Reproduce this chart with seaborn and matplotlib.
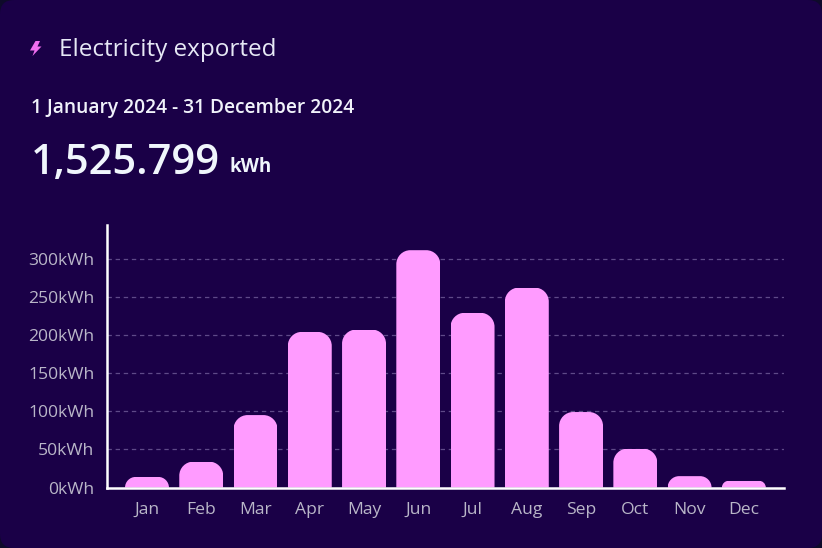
import matplotlib
matplotlib.use("Agg")
import matplotlib.pyplot as plt
import seaborn as sns
import pandas as pd
from matplotlib.path import Path
from matplotlib.patches import FancyBboxPatch, Polygon
from matplotlib.transforms import IdentityTransform

months = ["Jan", "Feb", "Mar", "Apr", "May", "Jun", "Jul", "Aug", "Sep", "Oct", "Nov", "Dec"]
exported = [14, 34, 95, 204, 207, 311, 229, 262, 99, 51, 15, 9]
yticks = [0, 50, 100, 150, 200, 250, 300]
ylabels = ["0kWh", "50kWh", "100kWh", "150kWh", "200kWh", "250kWh", "300kWh"]

BG = "#1a0047"
PINK = "#ff9bff"
W, H = 822, 548

sns.set_theme(style="white", font="Open Sans")
fig = plt.figure(figsize=(W / 100, H / 100), dpi=100, facecolor="#0e0a2a")
fig.add_artist(FancyBboxPatch((0, 0), W, H, boxstyle="round,pad=0,rounding_size=14",
                              transform=IdentityTransform(), fc=BG, ec="none", zorder=-5))
ax = fig.add_axes([107 / W, 1 - 487.6 / H, (784 - 107) / W, (487.6 - 225) / H])
ax.patch.set_alpha(0)

df = pd.DataFrame({"month": months, "kWh": exported})
sns.barplot(data=df, x="month", y="kWh", color=PINK, saturation=1, width=0.81, ax=ax,
            zorder=3, linewidth=0, edgecolor="none")

ax.set_xlim(-0.737, 11.74)
ax.set_ylim(0, 344)
ax.set_xlabel("")
ax.set_ylabel("")
ax.set_yticks(yticks, ylabels)
ax.tick_params(axis="both", length=0, labelsize=12.6, labelcolor="#b9b6c8")
ax.tick_params(axis="x", pad=10.5)
ax.tick_params(axis="y", pad=9)
ax.grid(axis="y", color="#5f4a88", lw=0.9, dashes=(3.5, 3))
ax.grid(axis="x", visible=False)
ax.set_axisbelow(True)
for s in ("top", "right"):
    ax.spines[s].set_visible(False)
for s in ("left", "bottom"):
    ax.spines[s].set_color("white")
    ax.spines[s].set_linewidth(1.8)
    ax.spines[s].set_zorder(5)

# rounded bar tops: clip each seaborn bar to a rounded shape in pixel space
fig.canvas.draw()
for bar in ax.patches:
    (x0, y0), (x1, y1) = ax.transData.transform(
        [(bar.get_x(), bar.get_y()), (bar.get_x() + bar.get_width(), bar.get_height())])
    r = min(14, y1 - y0)
    k = 0.45 * r
    verts = [(x0, y0), (x0, y1 - r), (x0, y1 - k), (x0 + k, y1), (x0 + r, y1),
             (x1 - r, y1), (x1 - k, y1), (x1, y1 - k), (x1, y1 - r), (x1, y0), (x0, y0)]
    codes = [Path.MOVETO, Path.LINETO, Path.CURVE4, Path.CURVE4, Path.CURVE4,
             Path.LINETO, Path.CURVE4, Path.CURVE4, Path.CURVE4, Path.LINETO, Path.CLOSEPOLY]
    bar.set_clip_path(Path(verts, codes), IdentityTransform())

def t(x, y, s, size, weight, color="white", family="Open Sans"):
    fig.text(x / W, 1 - y / H, s, fontsize=size, fontweight=weight, color=color,
             family=family, va="baseline", ha="left")

t(59, 56, "Electricity exported", 17.5, "normal", "#e6e8f5")
t(31, 113, "1 January 2024 - 31 December 2024", 13.75, "semibold", "#f0f2fa")
t(31, 174, "1,525.799", 30, "semibold", "#f0f6fc")
t(229, 172, "kWh", 13.5, "bold", "#f0f6fc")

bolt = [(35.5, 41), (30, 50.5), (34.5, 50.5), (32.5, 56), (41.5, 46.5), (37.5, 46.5), (40, 41)]
fig.add_artist(Polygon([(x / W, 1 - y / H) for x, y in bolt], closed=True,
                       transform=fig.transFigure, fc="#f06df0", ec="none"))

fig.savefig("out.png", dpi=100, facecolor=fig.get_facecolor())
